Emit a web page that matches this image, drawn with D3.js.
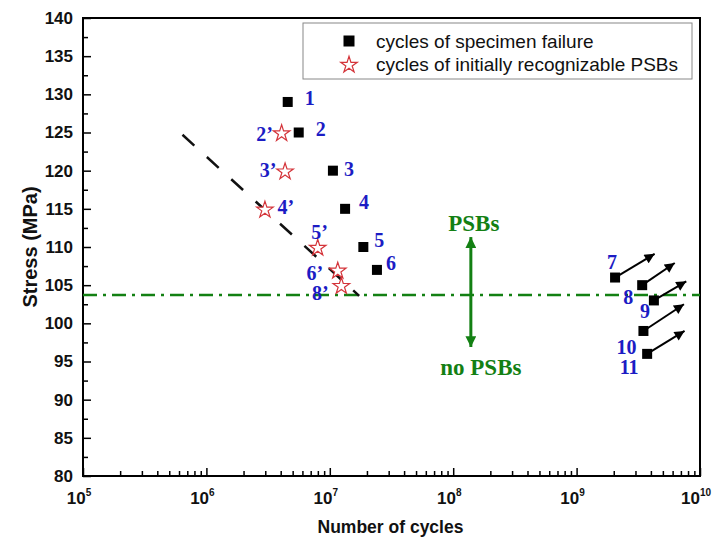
<!DOCTYPE html>
<html>
<head>
<meta charset="utf-8">
<script src="https://cdn.jsdelivr.net/npm/d3@7"></script>
<style>
  html, body { margin: 0; padding: 0; background: #fff; }
  svg { display: block; }
</style>
</head>
<body>
<svg id="chart" width="716" height="547"></svg>
<script>
// ---------------- data ----------------
const failureN = [4.56e6, 5.6e6, 1.06e7, 1.33e7, 1.87e7, 2.41e7];
const failureS = [129, 125, 120, 115, 110, 107];
const failureLabels = ["1", "2", "3", "4", "5", "6"];

const psbN = [4.07e6, 4.34e6, 2.98e6, 7.98e6, 1.16e7, 1.24e7];
const psbS = [125, 120, 115, 110, 107, 105];
const psbLabels = ["2\u2019", "3\u2019", "4\u2019", "5\u2019", "6\u2019", "8\u2019"];

const runoutN = [2.05e9, 3.4e9, 4.23e9, 3.48e9, 3.73e9];
const runoutS = [106, 105, 103, 99, 96];
const runoutLabels = ["7", "8", "9", "10", "11"];
const runoutArrowN = [4.29e9, 6.24e9, 7.74e9, 7.41e9, 7.5e9];
const runoutArrowS = [109.1, 107.9, 105.5, 102.5, 99.0];

const fitN = [6.4e5, 1.73e7];
const fitS = [124.7, 103.6];

const thresholdS = 103.7;
const psbArrowN = 1.39e8;
const psbArrowS = [111.3, 96.9];

const xMajorTicks = [5, 6, 7, 8, 9, 10];       // exponents of 10
const yTicks = [80, 85, 90, 95, 100, 105, 110, 115, 120, 125, 130, 135, 140];
const legendLabels = ["cycles of specimen failure", "cycles of initially recognizable PSBs"];

// ---------------- layout ----------------
const L = 83, R = 700, T = 18, B = 476;
const svg = d3.select("#chart");
const x = d3.scaleLog().domain([1e5, 1e10]).range([L, R]);
const y = d3.scaleLinear().domain([80, 140]).range([B, T]);

const blue = "#1c1cc4", green = "#138013", red = "#d4343a";
const sans = "'Liberation Sans', Arial, sans-serif";
const serif = "'Liberation Serif', 'Times New Roman', serif";

// label offsets (px) relative to marker
const failureOff = [[22,-4],[22,-4],[16,-2],[19,-7],[16,-7],[14,-7]];
const psbOff = [[-17,1],[-17,-1],[21,-2],[2,-15],[-23,3],[-21,8]];
const runoutOff = [[-3,-16],[-14,12],[-9,11],[-17,16],[-18,13]];

// ---------------- axes ----------------
const minorX = [];
for (let e = 5; e < 10; e++) for (let m = 2; m <= 9; m++) minorX.push(m * Math.pow(10, e));
const gx = svg.append("g").attr("transform", `translate(0,${B})`);
gx.call(d3.axisBottom(x).tickValues(minorX).tickSize(-5).tickFormat(""));
gx.call(g => g.select(".domain").remove());
const gx2 = svg.append("g").attr("transform", `translate(0,${B})`);
gx2.call(d3.axisBottom(x).tickValues(xMajorTicks.map(e => Math.pow(10, e))).tickSize(-8).tickFormat(""));
gx2.call(g => g.select(".domain").remove());

const xl = svg.append("g").selectAll("text").data(xMajorTicks).join("text")
  .attr("x", d => x(Math.pow(10, d)) - 4)
  .attr("y", B + 28)
  .attr("text-anchor", "middle")
  .attr("font-family", sans).attr("font-weight", "bold").attr("font-size", 17)
  .attr("fill", "#111");
xl.append("tspan").text("10");
xl.append("tspan").attr("dy", -8).attr("font-size", 10).text(d => d);

const minorY = d3.range(82.5, 140, 5);
const gy = svg.append("g").attr("transform", `translate(${L},0)`);
gy.call(d3.axisLeft(y).tickValues(minorY).tickSize(-5).tickFormat(""));
gy.call(g => g.select(".domain").remove());
const gy2 = svg.append("g").attr("transform", `translate(${L},0)`);
gy2.call(d3.axisLeft(y).tickValues(yTicks).tickSize(-8).tickPadding(10).tickFormat(d3.format("d")));
gy2.call(g => g.select(".domain").remove());
svg.selectAll("g .tick line").attr("stroke", "#000").attr("stroke-width", 1.5);
gy2.selectAll("text").attr("font-family", sans).attr("font-weight", "bold")
  .attr("font-size", 17).attr("fill", "#111");

// frame
svg.append("rect").attr("x", L).attr("y", T).attr("width", R - L).attr("height", B - T)
  .attr("fill", "none").attr("stroke", "#000").attr("stroke-width", 2);

// axis titles
svg.append("text").attr("x", (L + R) / 2 - 1).attr("y", 533).attr("text-anchor", "middle")
  .attr("font-family", sans).attr("font-weight", "bold").attr("font-size", 17.5).attr("fill", "#111")
  .text("Number of cycles");
svg.append("text").attr("transform", `translate(30,${(T + B) / 2}) rotate(-90)`)
  .attr("text-anchor", "middle").attr("dominant-baseline", "central")
  .attr("font-family", sans).attr("font-weight", "bold").attr("font-size", 20).attr("fill", "#111")
  .text("Stress (MPa)");

// ---------------- lines ----------------
svg.append("line")
  .attr("x1", x(1e5)).attr("x2", x(1e10))
  .attr("y1", y(thresholdS)).attr("y2", y(thresholdS))
  .attr("stroke", green).attr("stroke-width", 2.5).attr("stroke-dasharray", "14,6,3,6");

svg.append("line")
  .attr("x1", x(fitN[0])).attr("y1", y(fitS[0]))
  .attr("x2", x(fitN[1])).attr("y2", y(fitS[1]))
  .attr("stroke", "#111").attr("stroke-width", 2.5).attr("stroke-dasharray", "16,17");

// arrow markers
const defs = svg.append("defs");
defs.append("marker").attr("id", "gArrow").attr("viewBox", "0 0 10 10")
  .attr("refX", 10).attr("refY", 5).attr("markerWidth", 6).attr("markerHeight", 3.6)
  .attr("markerUnits", "strokeWidth").attr("orient", "auto-start-reverse")
  .append("path").attr("d", "M0,0 L10,5 L0,10 Z").attr("fill", green);
defs.append("marker").attr("id", "kArrow").attr("viewBox", "0 0 10 10")
  .attr("refX", 10).attr("refY", 5).attr("markerWidth", 5.5).attr("markerHeight", 5)
  .attr("markerUnits", "strokeWidth").attr("orient", "auto")
  .append("path").attr("d", "M0,0 L10,5 L0,10 Z").attr("fill", "#000");

svg.append("line")
  .attr("x1", x(psbArrowN)).attr("x2", x(psbArrowN))
  .attr("y1", y(psbArrowS[0])).attr("y2", y(psbArrowS[1]))
  .attr("stroke", green).attr("stroke-width", 3)
  .attr("marker-start", "url(#gArrow)").attr("marker-end", "url(#gArrow)");
svg.append("text").attr("x", x(psbArrowN) + 3).attr("y", y(psbArrowS[0]) - 14)
  .attr("text-anchor", "middle").attr("dominant-baseline", "central")
  .attr("font-family", serif).attr("font-weight", "bold").attr("font-size", 23).attr("fill", green)
  .text("PSBs");
svg.append("text").attr("x", x(psbArrowN) + 10).attr("y", y(psbArrowS[1]) + 21)
  .attr("text-anchor", "middle").attr("dominant-baseline", "central")
  .attr("font-family", serif).attr("font-weight", "bold").attr("font-size", 23).attr("fill", green)
  .text("no PSBs");

// runout arrows
svg.append("g").selectAll("line").data(runoutN).join("line")
  .attr("x1", (d, i) => x(d)).attr("y1", (d, i) => y(runoutS[i]))
  .attr("x2", (d, i) => x(runoutArrowN[i])).attr("y2", (d, i) => y(runoutArrowS[i]))
  .attr("stroke", "#000").attr("stroke-width", 2).attr("marker-end", "url(#kArrow)");

// ---------------- markers ----------------
const sq = 10;
function squares(N, S) {
  svg.append("g").selectAll("rect").data(N).join("rect")
    .attr("x", d => x(d) - sq / 2).attr("y", (d, i) => y(S[i]) - sq / 2)
    .attr("width", sq).attr("height", sq).attr("fill", "#000");
}
squares(failureN, failureS);
squares(runoutN, runoutS);

const star = d3.symbol().type(d3.symbolStar).size(85);
svg.append("g").selectAll("path").data(psbN).join("path")
  .attr("transform", (d, i) => `translate(${x(d)},${y(psbS[i]) + 1})`)
  .attr("d", star).attr("fill", "#fff").attr("stroke", red).attr("stroke-width", 1.2);

// ---------------- labels ----------------
function labels(N, S, T_, off) {
  svg.append("g").selectAll("text").data(N).join("text")
    .attr("x", (d, i) => x(d) + off[i][0]).attr("y", (d, i) => y(S[i]) + off[i][1])
    .attr("text-anchor", "middle").attr("dominant-baseline", "central")
    .attr("font-family", serif).attr("font-weight", "bold").attr("font-size", 20).attr("fill", blue)
    .text((d, i) => T_[i]);
}
labels(failureN, failureS, failureLabels, failureOff);
labels(psbN, psbS, psbLabels, psbOff);
labels(runoutN, runoutS, runoutLabels, runoutOff);

// ---------------- legend ----------------
const lg = svg.append("g");
lg.append("rect").attr("x", 303).attr("y", 23).attr("width", 389).attr("height", 56)
  .attr("fill", "#fff").attr("stroke", "#888").attr("stroke-width", 1);
lg.append("rect").attr("x", 349 - 5.5).attr("y", 41 - 5.5).attr("width", 11).attr("height", 11).attr("fill", "#000");
lg.append("path").attr("transform", "translate(349,65)").attr("d", star)
  .attr("fill", "#fff").attr("stroke", red).attr("stroke-width", 1.2);
lg.selectAll("text").data(legendLabels).join("text")
  .attr("x", 376).attr("y", (d, i) => 41 + i * 23)
  .attr("dominant-baseline", "central")
  .attr("font-family", sans).attr("font-size", 19).attr("fill", "#111")
  .text(d => d);
</script>
</body>
</html>
